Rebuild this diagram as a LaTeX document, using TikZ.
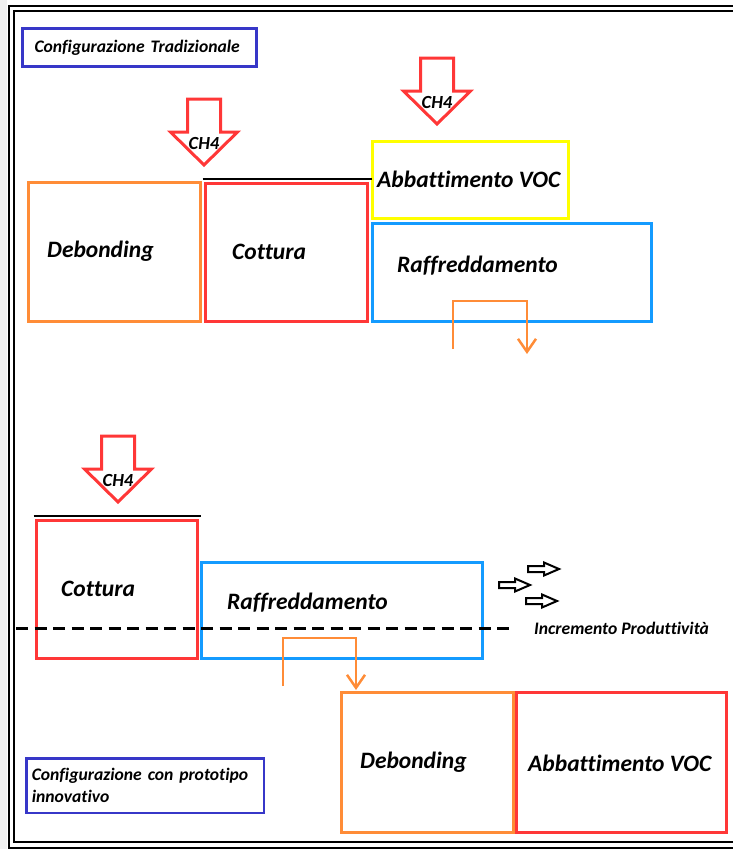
\documentclass[tikz,border=0pt]{standalone}
\usepackage{fontspec}
\setmainfont{Carlito}[Ligatures=NoCommon]
\usetikzlibrary{arrows.meta}
\definecolor{cOrange}{RGB}{255,140,55}
\definecolor{cRed}{RGB}{255,55,55}
\definecolor{cYellow}{RGB}{255,255,0}
\definecolor{cBlue}{RGB}{20,155,255}
\definecolor{cLabel}{RGB}{55,55,200}
\tikzset{
  box/.style={draw, line width=3pt, inner sep=0pt, rectangle},
  bigtext/.style={font=\fontsize{23.5}{28}\selectfont\bfseries\itshape, inner sep=0pt, anchor=west},
  smalltext/.style={font=\fontsize{17.6}{22}\selectfont\bfseries\itshape},
  labelbox/.style={draw=cLabel, line width=2.5pt, rectangle, smalltext, align=left},
  frameline/.style={draw=black, line width=2pt},
  topline/.style={draw=black, line width=1.5pt},
  orangeconn/.style={draw=cOrange, line width=2.5pt},
  ch4arrow/.pic={
    \draw[cRed, line width=3pt, fill=white, line join=miter]
      (-16.5,-66) -- (16.5,-66) -- (16.5,-33) -- (33.5,-33) -- (0,0)
      -- (-33.5,-33) -- (-16.5,-33) -- cycle;
    \node[font=\fontsize{18.5}{20}\selectfont\bfseries\itshape, inner sep=0pt] (-label) at (0,-22) {CH4};
  },
  hollowarrow/.pic={
    \draw[black, line width=2pt, fill=white, line join=miter]
      (0,-3) -- (16,-3) -- (16,-6.5) -- (31,0) -- (16,6.5) -- (16,3) -- (0,3) -- cycle;
  }
}
\begin{document}
\begin{tikzpicture}[x=1pt,y=-1pt]
\useasboundingbox (0,0) rectangle (733,849);
% page margin shade and double frame
\fill[gray!12] (0,0) rectangle (7,849);
\draw[frameline] (733,6) -- (9,6) -- (9,847.5) -- (733,847.5);
\draw[frameline] (733,11) -- (14,11) -- (14,842) -- (733,842);

% ---------- traditional configuration ----------
\node[labelbox, minimum width=234pt, minimum height=38pt, text width=210pt, inner xsep=12pt] (lab1) at (139.5,47.5) {Configurazione Tradizionale};

\node[box, draw=cOrange, minimum width=172pt, minimum height=139pt] (deb1) at (114.5,252) {};
\node[box, draw=cRed, minimum width=162pt, minimum height=138pt] (cot1) at (286.5,252.5) {};
\node[box, draw=cYellow, minimum width=196pt, minimum height=77pt] (abb1) at (470.5,180) {};
\node[box, draw=cBlue, minimum width=279pt, minimum height=98pt] (raf1) at (512,272.5) {};
\draw[topline] ([xshift=-1.5pt,yshift=3pt]cot1.north west) -- ([xshift=3pt,yshift=3pt]cot1.north east);

\node[bigtext] (tdeb1) at (47,251) {Debonding};
\node[bigtext] (tcot1) at (232,252) {Cottura};
\node[bigtext] (tabb1) at (377,179) {Abbattimento VOC};
\node[bigtext] (traf1) at (397,266) {Raffreddamento};

\pic (ch1) at (204,165) {ch4arrow};
\pic (ch2) at (437,124) {ch4arrow};

\coordinate (u1s) at (453,349);
\coordinate (u1e) at (527,354);
\draw[orangeconn, -{Straight Barb[length=13pt,width=18pt]}] (u1s) -- ++(0,-48) -| (u1e);

% ---------- innovative configuration ----------
\pic (ch3) at (118,502) {ch4arrow};

\node[box, draw=cRed, minimum width=161pt, minimum height=138pt] (cot2) at (117,589.5) {};
\node[box, draw=cBlue, minimum width=281pt, minimum height=96pt] (raf2) at (342,610.5) {};
\node[box, draw=cOrange, minimum width=172pt, minimum height=140pt] (deb2) at (427.5,762.5) {};
\node[box, draw=cRed, minimum width=210pt, minimum height=140pt] (abb2) at (621.5,762.5) {};
\draw[topline] ([xshift=-1.5pt,yshift=3pt]cot2.north west) -- ([xshift=1.5pt,yshift=3pt]cot2.north east);

\node[bigtext] (tcot2) at (61,589) {Cottura};
\node[bigtext] (traf2) at (227,603) {Raffreddamento};
\node[bigtext] (tdeb2) at (360,762) {Debonding};
\node[bigtext] (tabb2) at (528,763) {Abbattimento VOC};

\coordinate (dl1) at (16,628);
\coordinate (dl2) at (515,628);
\draw[black, line width=3pt, dash pattern=on 12pt off 6.5pt] (dl1) -- (dl2);
\node[smalltext, inner sep=0pt, anchor=west] (incr) at (534,628) {Incremento Produttività};

\pic at (528,569) {hollowarrow};
\pic at (499,585) {hollowarrow};
\pic at (526,601) {hollowarrow};

\coordinate (u2s) at (283,686);
\coordinate (u2e) at (356,690);
\draw[orangeconn, -{Straight Barb[length=13pt,width=18pt]}] (u2s) -- ++(0,-48) -| (u2e);

\node[labelbox, minimum width=237.5pt, minimum height=54.5pt, text width=226.5pt, inner xsep=5.5pt] (lab2) at (145,785.5) {Configurazione con prototipo\\innovativo};
\end{tikzpicture}
\end{document}
